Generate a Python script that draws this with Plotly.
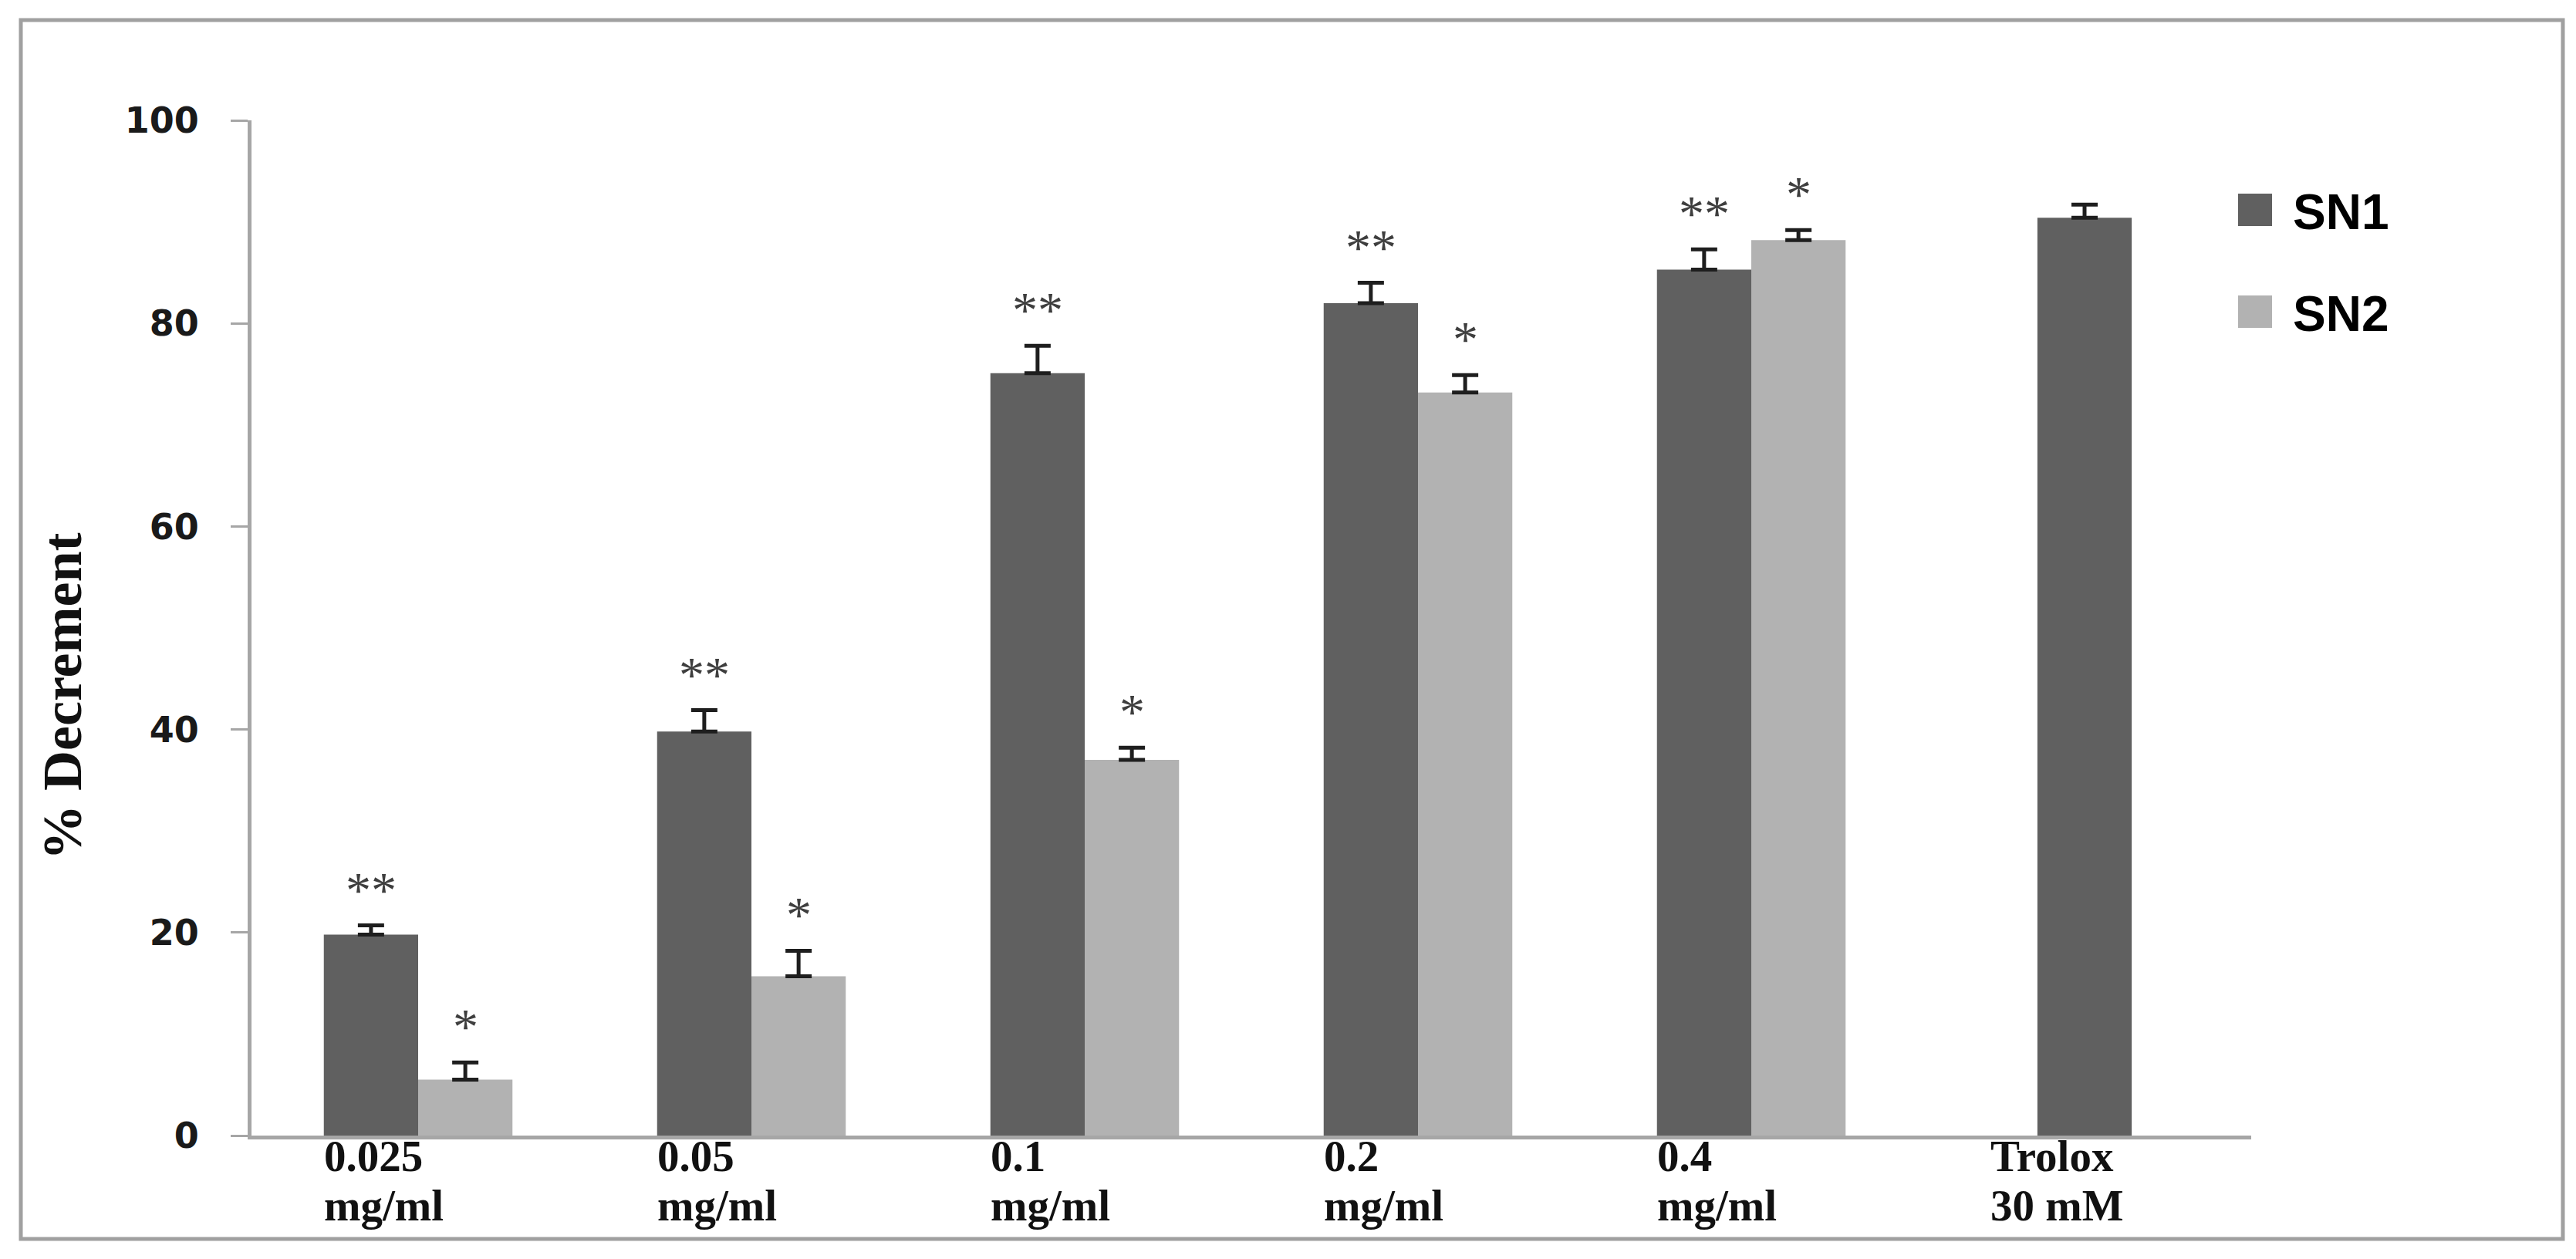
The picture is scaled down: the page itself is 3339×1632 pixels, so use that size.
import plotly.graph_objects as go

# ---------------- data ----------------
categories = ["0.025 mg/ml", "0.05 mg/ml", "0.1 mg/ml", "0.2 mg/ml", "0.4 mg/ml", "Trolox 30 mM"]
label_line1 = ["0.025", "0.05", "0.1", "0.2", "0.4", "Trolox"]
label_line2 = ["mg/ml", "mg/ml", "mg/ml", "mg/ml", "mg/ml", "30 mM"]

sn1 = [19.8, 39.8, 75.1, 82.0, 85.3, 90.4]
sn1_err = [0.9, 2.1, 2.7, 2.0, 2.0, 1.3]
sn2 = [5.5, 15.7, 37.0, 73.2, 88.2, None]
sn2_err = [1.7, 2.5, 1.2, 1.7, 1.0, None]

sn1_sig = ["**", "**", "**", "**", "**", ""]
sn2_sig = ["*", "*", "*", "*", "*", ""]

y_ticks = [0, 20, 40, 60, 80, 100]

# ---------------- style ----------------
W, H = 3339, 1632
L, R, T, B = 318, 429, 148, 168
PW, PH = W - L - R, H - T - B
BW = 0.283  # bar width in category units
C1, C2 = "#606060", "#b2b2b2"
AXC = "#a6a6a6"

def px_x(px):
    return (px - L) / PW

def px_y(py):
    return (H - B - py) / PH

n = len(categories)
sn1_offset = [-BW if sn2[i] is not None else -BW / 2 for i in range(n)]
sn2_offset = [0.0] * n

fig = go.Figure()
fig.add_trace(go.Bar(
    x=categories, y=sn1, name="SN1",
    width=[BW] * n, offset=sn1_offset,
    marker=dict(color=C1, line=dict(width=0)),
    error_y=dict(type="data", array=sn1_err, symmetric=False, arrayminus=[0] * n,
                 color="#1e1e1e", thickness=5, width=17),
))
fig.add_trace(go.Bar(
    x=categories, y=sn2, name="SN2",
    width=[BW] * n, offset=sn2_offset,
    marker=dict(color=C2, line=dict(width=0)),
    error_y=dict(type="data", array=[e if e is not None else 0 for e in sn2_err],
                 symmetric=False, arrayminus=[0] * n,
                 color="#1e1e1e", thickness=5, width=17),
))

annotations = []
shapes = []

# significance stars
star_font = dict(family="Liberation Serif", size=66, color="#3e3e3e")
for i in range(n):
    if sn1_sig[i]:
        xc = i + sn1_offset[i] + BW / 2
        annotations.append(dict(x=xc, y=sn1[i] + sn1_err[i], xref="x", yref="y",
                                text=sn1_sig[i], showarrow=False, yanchor="bottom",
                                yshift=8, font=star_font))
    if sn2_sig[i] and sn2[i] is not None:
        xc = i + sn2_offset[i] + BW / 2
        annotations.append(dict(x=xc, y=sn2[i] + sn2_err[i], xref="x", yref="y",
                                text=sn2_sig[i], showarrow=False, yanchor="bottom",
                                yshift=8, font=star_font))

# x category labels (two left-aligned lines)
xfont = dict(family="Liberation Serif", size=57, color="#111111")
for i in range(n):
    annotations.append(dict(x=i - 0.285, y=0, xref="x", yref="paper", text="<b>%s</b>" % label_line1[i],
                            showarrow=False, xanchor="left", yanchor="top", yshift=6,
                            borderpad=0, font=xfont))
    annotations.append(dict(x=i - 0.285, y=0, xref="x", yref="paper", text="<b>%s</b>" % label_line2[i],
                            showarrow=False, xanchor="left", yanchor="top", yshift=-58,
                            borderpad=0, font=xfont))

# y-axis title
annotations.append(dict(x=px_x(73), y=px_y(895), xref="paper", yref="paper",
                        text="<b>% Decrement</b>", textangle=-90, showarrow=False,
                        xanchor="center", yanchor="middle",
                        font=dict(family="Liberation Serif", size=72, color="#111111")))

# legend (custom, large swatches)
leg = [("SN1", C1, 243, 285), ("SN2", C2, 375, 417)]
for name, col, top, bot in leg:
    shapes.append(dict(type="rect", xref="paper", yref="paper",
                       x0=px_x(2893), x1=px_x(2937), y0=px_y(bot), y1=px_y(top),
                       fillcolor=col, line=dict(width=0)))
    annotations.append(dict(x=px_x(2962), y=px_y((top + bot) / 2 + 3), xref="paper", yref="paper",
                            text="<b>%s</b>" % name, showarrow=False, xanchor="left", yanchor="middle",
                            font=dict(family="Liberation Sans", size=64, color="#000000")))

# outer frame
shapes.append(dict(type="rect", xref="paper", yref="paper",
                   x0=px_x(19), x1=px_x(3314), y0=px_y(1598), y1=px_y(18),
                   line=dict(color="#a0a0a0", width=5), fillcolor="rgba(0,0,0,0)", layer="below"))

fig.update_layout(
    width=W, height=H,
    margin=dict(l=L, r=R, t=T, b=B, autoexpand=False),
    paper_bgcolor="white", plot_bgcolor="white",
    barmode="overlay",
    showlegend=False,
    annotations=annotations,
    shapes=shapes,
    xaxis=dict(type="category", categoryorder="array", categoryarray=categories,
               range=[-0.5, n - 0.5], showticklabels=False, ticks="",
               showline=True, linecolor=AXC, linewidth=5, showgrid=False, zeroline=False),
    yaxis=dict(range=[0, 100], tickvals=y_ticks, ticks="outside", ticklen=22, tickwidth=3,
               tickcolor=AXC, showline=True, linecolor=AXC, linewidth=5,
               showgrid=False, zeroline=False, ticklabelstandoff=32,
               tickfont=dict(family="DejaVu Sans", size=46, color="#1a1a1a", weight="bold")),
)

fig.write_html("out.html")
